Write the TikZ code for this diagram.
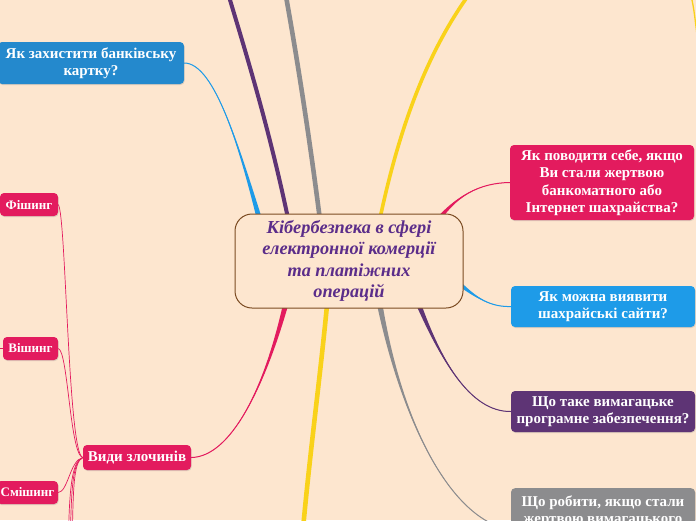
\documentclass[tikz,border=0pt]{standalone}
\usepackage{fontspec}
\setmainfont{Liberation Serif}
\usetikzlibrary{calc,shadows}

\definecolor{paper}{HTML}{FDE6CF}
\definecolor{rootline}{HTML}{7B4B22}
\definecolor{roottext}{HTML}{5B2D8A}
\definecolor{mmpink}{HTML}{E31B5E}
\definecolor{mmblue}{HTML}{1E9BE8}
\definecolor{mmdarkblue}{HTML}{2489CD}
\definecolor{mmpurple}{HTML}{5E3475}
\definecolor{mmgray}{HTML}{8C8C8E}
\definecolor{mmyellow}{HTML}{F9D21A}

\pgfdeclarelayer{backdrop}
\pgfdeclarelayer{links}
\pgfsetlayers{backdrop,links,main}

% tapered branch: colour, offset from root, half width, controls, target
\newcommand\branch[6]{%
  \fill[#1] ($(root)+(#2)+(#3)$) .. controls (#4) and (#5) .. (#6)
    .. controls (#5) and (#4) .. ($(root)+(#2)-(#3)$) -- cycle;
  \draw[#1,line width=1pt] ($(root)+(#2)$) .. controls (#4) and (#5) .. (#6);}

\tikzset{
  hub/.style={draw=rootline, line width=1pt, fill=paper, rounded corners=17pt,
    minimum width=228pt, minimum height=94pt, text=roottext, align=center,
    font=\bfseries\itshape\fontsize{18.3}{21.5}\selectfont},
  box/.style={fill=#1, rounded corners=4pt, text=white, align=center, inner sep=0pt,
    font=\bfseries\fontsize{15}{17.5}\selectfont,
    drop shadow={opacity=0.25, shadow xshift=0.6pt, shadow yshift=-1pt}},
  leaf/.style={box=mmpink, font=\bfseries\fontsize{13}{15}\selectfont, minimum height=23pt},
  trunk/.style={draw=#1, line width=4.3pt},
  twig/.style={draw=mmpink, line width=0.7pt},
}

\begin{document}
\begin{tikzpicture}[x=1pt,y=-1pt]
  \useasboundingbox (0,0) rectangle (696,520);
  \begin{pgfonlayer}{backdrop}
    \fill[paper] (0,0) rectangle (696,520);
  \end{pgfonlayer}

  % root and main topics
  \node[hub] (root) at (349,261) {Кібербезпека в сфері\\електронної комерції\\та платіжних\\операцій};
  \node[box=mmdarkblue, minimum width=186pt, minimum height=42pt] (card) at (91,63) {Як захистити банківську\\картку?};
  \node[box=mmpink, minimum width=184pt, minimum height=75pt] (victim) at (602,182.5) {Як поводити себе, якщо\\Ви стали жертвою\\банкоматного або\\Інтернет шахрайства?};
  \node[box=mmblue, minimum width=184pt, minimum height=41pt] (sites) at (603,306.5) {Як можна виявити\\шахрайські сайти?};
  \node[box=mmpurple, minimum width=184pt, minimum height=41pt] (ransom) at (603,411.5) {Що таке вимагацьке\\програмне забезпечення?};
  \node[box=mmgray, minimum width=184pt, anchor=north, inner ysep=7.5pt, text depth=40pt] (help) at (603,488) {Що робити, якщо стали\\жертвою вимагацького};
  \node[box=mmpink, minimum width=108pt, minimum height=25pt] (crimes) at (137,457.5) {Види злочинів};

  % kinds of crime
  \node[leaf, minimum width=58pt] (phish) at (29,204.5) {Фішинг};
  \node[leaf, minimum width=55pt] (vish) at (30.5,348.5) {Вішинг};
  \node[leaf, minimum width=61pt] (smish) at (27.5,492.5) {Смішинг};

  % free ends beyond the page
  \coordinate (upP) at (224,-20);
  \coordinate (upG) at (283,-20);
  \coordinate (upY) at (480,-20);
  \coordinate (dnY) at (302,540);
  \coordinate (stubA) at (691,-5);
  \coordinate (stubB) at (697,35);
  \coordinate (vishL) at (-10,348.5);
  \coordinate (dn1) at (68,560);
  \coordinate (dn2) at (70,560);
  \coordinate (dn3) at (72,560);

  \begin{pgfonlayer}{links}
    \branch{mmblue}{-87,-33}{3,0}{240,150}{215,63}{card.east}
    \draw[trunk=mmpurple, line width=4pt] ($(root)+(-59,-33)$) .. controls (270,130) and (245,50) .. (upP);
    \draw[trunk=mmgray, line width=4.6pt] ($(root)+(-28,-33)$) .. controls (310,140) and (296,50) .. (upG);
    \draw[trunk=mmyellow, line width=3.6pt] ($(root)+(29,-33)$) .. controls (400,120) and (432,40) .. (upY);
    \branch{mmpink}{83,-33}{2.2,2.2}{455,195}{480,183}{victim.west}
    \branch{mmblue}{106,19}{-1.3,2.6}{478,300}{492,307}{sites.west}
    \branch{mmpurple}{66,34}{2.6,-1.3}{440,360}{470,412}{ransom.west}
    \branch{mmgray}{29,34}{3,0}{400,420}{450,520}{help.west}
    \branch{mmpink}{-61,34}{3,0}{265,390}{230,457}{crimes.east}
    \draw[trunk=mmyellow, line width=4.6pt] ($(root)+(-21,34)$) .. controls (320,380) and (310,450) .. (dnY);
    \draw[mmyellow, line width=1.3pt] (stubA) .. controls (694,10) .. (stubB);

    \draw[twig] (crimes.west) .. controls (68,455) and (66,212) .. (phish.east);
    \draw[twig] (crimes.west) .. controls (70,455) and (68,350) .. (vish.east);
    \draw[twig] (crimes.west) .. controls (70,460) and (68,492) .. (smish.east);
    \draw[twig] (vish.west) -- (vishL);
    \draw[twig] (crimes.west) .. controls (71,462) and (69,490) .. (dn1);
    \draw[twig] (crimes.west) .. controls (72,462) and (71,490) .. (dn2);
    \draw[twig] (crimes.west) .. controls (73,462) and (73,490) .. (dn3);
  \end{pgfonlayer}
\end{tikzpicture}
\end{document}
